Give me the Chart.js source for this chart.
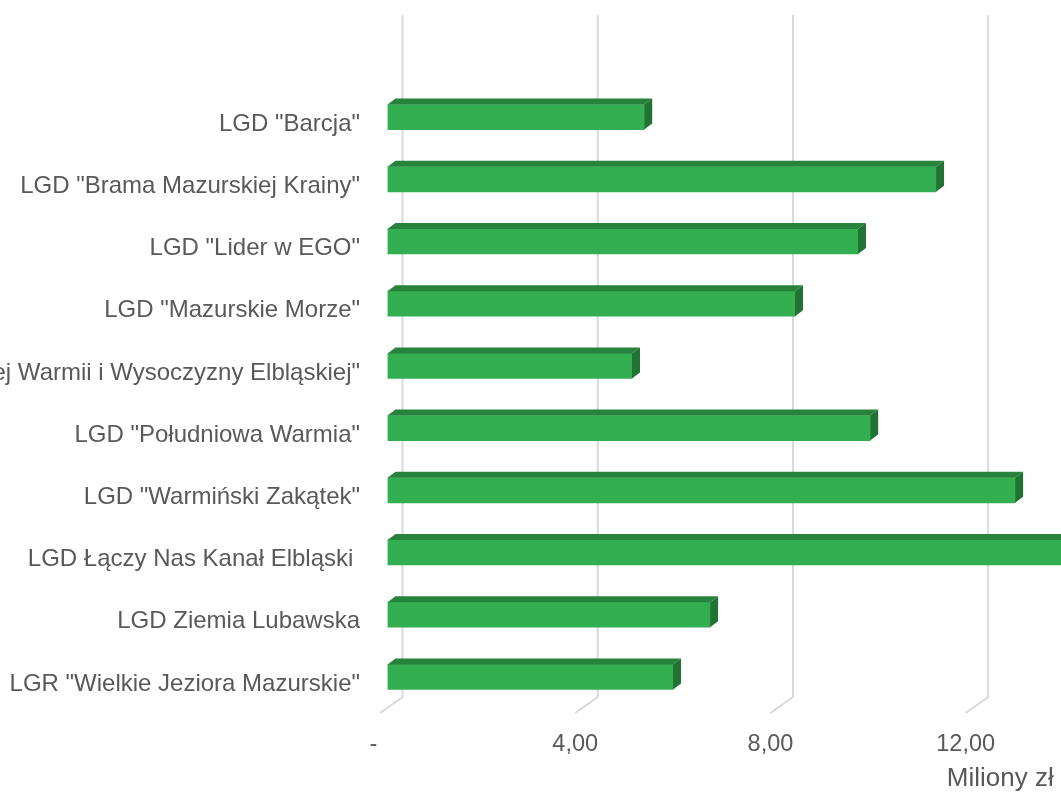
<!DOCTYPE html>
<html>
<head>
<meta charset="utf-8">
<script src="https://cdn.jsdelivr.net/npm/chart.js@4/dist/chart.umd.min.js"></script>
<style>
  html, body { margin: 0; padding: 0; background: #fff; overflow: hidden; }
</style>
</head>
<body>
<canvas id="chart" width="1061" height="794"></canvas>
<script>
const categories = [
    'LGD "Barcja"',
    'LGD "Brama Mazurskiej Krainy"',
    'LGD "Lider w EGO"',
    'LGD "Mazurskie Morze"',
    'LGD "Północnej Warmii i Wysoczyzny Elbląskiej"',
    'LGD "Południowa Warmia"',
    'LGD "Warmiński Zakątek"',
    'LGD Łączy Nas Kanał Elbląski ',
    'LGD Ziemia Lubawska',
    'LGR "Wielkie Jeziora Mazurskie"'
]
const values = [5.26, 11.24, 9.64, 8.35, 5.01, 9.89, 12.86, 14.5, 6.61, 5.85]
const tickValues = [0, 4, 8, 12]
const axisTitle = 'Miliony zł '

const green = '#33af52'
const greenTop = '#27823c'
const greenSide = '#217333'
const depthX = 8, depthY = 6

// back wall gridlines + slanted floor segments
const gridPlugin = {
    id: 'grid3d',
    beforeDatasetsDraw(chart) {
        const ctx = chart.ctx
        const xs = chart.scales.x
        ctx.save()
        ctx.strokeStyle = '#d9d9d9'
        ctx.lineWidth = 2
        tickValues.forEach(v => {
            const px = xs.getPixelForValue(v)
            ctx.beginPath()
            ctx.moveTo(px + 15, 15)
            ctx.lineTo(px + 15, 697)
            ctx.lineTo(px - 7.5, 713)
            ctx.stroke()
        })
        ctx.restore()
    }
}

// top and side faces of the bars
const bar3dPlugin = {
    id: 'bar3d',
    afterDatasetsDraw(chart) {
        const ctx = chart.ctx
        const meta = chart.getDatasetMeta(0)
        ctx.save()
        meta.data.forEach(bar => {
            const x0 = bar.base, x1 = bar.x
            const top = bar.y - bar.height / 2
            const bottom = bar.y + bar.height / 2
            ctx.fillStyle = greenTop
            ctx.beginPath()
            ctx.moveTo(x0, top)
            ctx.lineTo(x0 + depthX, top - depthY)
            ctx.lineTo(x1 + depthX, top - depthY)
            ctx.lineTo(x1, top)
            ctx.closePath()
            ctx.fill()
            ctx.fillStyle = greenSide
            ctx.beginPath()
            ctx.moveTo(x1, top)
            ctx.lineTo(x1 + depthX, top - depthY)
            ctx.lineTo(x1 + depthX, bottom - depthY)
            ctx.lineTo(x1, bottom)
            ctx.closePath()
            ctx.fill()
        })
        ctx.restore()
    }
}

const fontFamily = '"Liberation Sans", Arial, sans-serif'

new Chart(document.getElementById('chart'), {
    type: 'bar',
    data: {
        labels: categories,
        datasets: [{
            data: values,
            backgroundColor: green,
            borderWidth: 0,
            barThickness: 25
        }]
    },
    options: {
        indexAxis: 'y',
        responsive: false,
        animation: false,
        devicePixelRatio: 1,
        layout: {padding: {top: 86, right: 0, bottom: 0, left: 0}},
        plugins: {
            legend: {display: false},
            tooltip: {enabled: false}
        },
        scales: {
            y: {
                grid: {display: false, drawTicks: false},
                border: {display: false},
                ticks: {
                    autoSkip: false,
                    padding: 27.5,
                    labelOffset: 7,
                    color: '#595959',
                    font: {family: fontFamily, size: 24}
                },
                afterFit: scale => { scale.width = 387.5 }
            },
            x: {
                min: 0,
                max: 13.8,
                grid: {display: false, drawTicks: false},
                border: {display: false},
                ticks: {
                    stepSize: 4,
                    includeBounds: false,
                    autoSkip: false,
                    maxRotation: 0,
                    padding: 22,
                    labelOffset: -7.5,
                    color: '#595959',
                    font: {family: fontFamily, size: 23.5},
                    callback: v => v === 0 ? '-  ' : v.toFixed(2).replace('.', ',')
                },
                title: {
                    display: true,
                    text: axisTitle,
                    align: 'end',
                    color: '#595959',
                    padding: {top: 0, bottom: 0},
                    font: {family: fontFamily, size: 26}
                },
                afterFit: scale => { scale.height = 86 }
            }
        }
    },
    plugins: [gridPlugin, bar3dPlugin]
})
</script>
</body>
</html>
